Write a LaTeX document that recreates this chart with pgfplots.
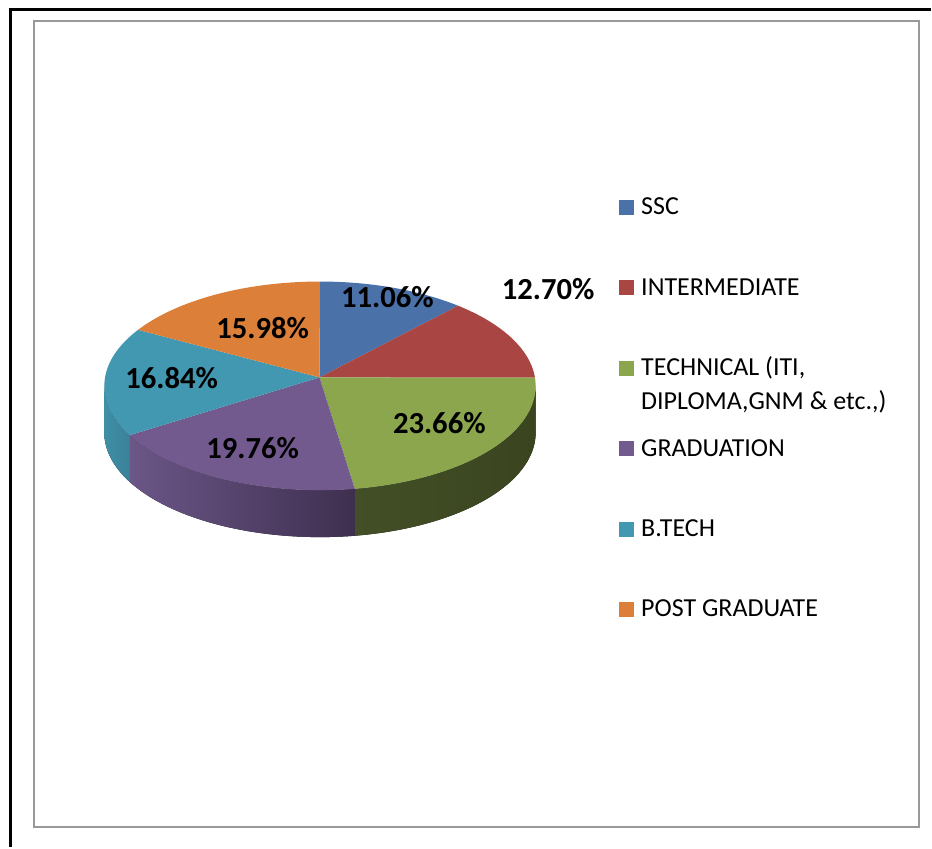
\documentclass[border=0pt]{standalone}
\usepackage{pgfplots}
\pgfplotsset{compat=1.18}
\usepgfplotslibrary{fillbetween}
\usepackage{fontspec}
\setmainfont{Carlito}
\definecolor{cA}{HTML}{4A71A8}
\definecolor{cB}{HTML}{A94542}
\definecolor{cC}{HTML}{8BA64D}
\definecolor{cD}{HTML}{725A8E}
\definecolor{cE}{HTML}{4297B1}
\definecolor{cF}{HTML}{DC8039}
\definecolor{sCl}{HTML}{434F26}
\definecolor{sCr}{HTML}{3A4520}
\definecolor{sDl}{HTML}{6B5687}
\definecolor{sDr}{HTML}{3E2F4F}
\definecolor{sEl}{HTML}{3E8FA7}
\definecolor{sEr}{HTML}{3A8198}
% shares (percent)
\def\pA{11.06}\def\pB{12.70}\def\pC{23.66}\def\pD{19.76}\def\pE{16.84}\def\pF{15.98}
\pgfmathsetmacro\aA{90}
\pgfmathsetmacro\aB{\aA-3.6*\pA}
\pgfmathsetmacro\aC{\aB-3.6*\pB}
\pgfmathsetmacro\aD{\aC-3.6*\pC}
\pgfmathsetmacro\aE{\aD-3.6*\pD}
\pgfmathsetmacro\aF{\aE-3.6*\pE}
\pgfmathsetmacro\aG{\aF-3.6*\pF}
\def\cx{320.5}\def\cy{386.5}\def\rx{216}\def\ry{104.5}\def\dd{47}
\def\px{320}\def\py{378}
\newcommand\lgd[1]{\raisebox{0pt}[15pt][0pt]{#1}}
\newcommand\lbl{\fontsize{23}{27}\selectfont\bfseries}
\begin{document}
\begin{tikzpicture}
\begin{axis}[
  hide axis, scale only axis, width=699pt, height=636pt,
  xmin=0, xmax=932, ymin=0, ymax=848, y dir=reverse, clip=false,
  legend style={at={(axis cs:620,195)}, anchor=north west, draw=none, fill=none,
    inner sep=0pt, row sep=43.9pt, column sep=5.25pt,
    font=\fontsize{19.5}{25.5}\selectfont,
    nodes={inner sep=0pt, anchor=base west}},
  legend cell align=left,
  legend image code/.code={\fill[#1] (0pt,0pt) rectangle (11.25pt,11.25pt);},
]
\path (axis cs:0,0) rectangle (axis cs:932,848);
% frames
\draw[black, line width=2.25pt] (axis cs:10.5,9) -- (axis cs:10.5,848);
\draw[black, line width=2.25pt] (axis cs:9,10) -- (axis cs:932,10);
\draw[gray!80, line width=1.5pt] (axis cs:34.5,21) rectangle (axis cs:920,828);
% sides
\addplot[name path=ct, draw=none, domain=\aD:0, samples=40, forget plot] ({\cx+\rx*cos(x)},{\cy-\ry*sin(x)});
\addplot[name path=cb, draw=none, domain=\aD:0, samples=40, forget plot] ({\cx+\rx*cos(x)},{\cy-\ry*sin(x)+\dd});
\addplot[left color=sCl, right color=sCr, draw=none, forget plot] fill between[of=ct and cb];
\addplot[name path=dt, draw=none, domain=\aE:\aD, samples=40, forget plot] ({\cx+\rx*cos(x)},{\cy-\ry*sin(x)});
\addplot[name path=db, draw=none, domain=\aE:\aD, samples=40, forget plot] ({\cx+\rx*cos(x)},{\cy-\ry*sin(x)+\dd});
\addplot[left color=sDl, right color=sDr, draw=none, forget plot] fill between[of=dt and db];
\addplot[name path=et, draw=none, domain=-180:\aE, samples=20, forget plot] ({\cx+\rx*cos(x)},{\cy-\ry*sin(x)});
\addplot[name path=eb, draw=none, domain=-180:\aE, samples=20, forget plot] ({\cx+\rx*cos(x)},{\cy-\ry*sin(x)+\dd});
\addplot[left color=sEl, right color=sEr, draw=none, forget plot] fill between[of=et and eb];
% tops
\addplot[fill=cA, draw=none, domain=\aB:\aA, samples=40] ({\cx+\rx*cos(x)},{\cy-\ry*sin(x)}) -- (axis cs:\px,\py) -- cycle;
\addlegendentry{\lgd{SSC}}
\addplot[fill=cB, draw=none, domain=\aC:\aB, samples=40] ({\cx+\rx*cos(x)},{\cy-\ry*sin(x)}) -- (axis cs:\px,\py) -- cycle;
\addlegendentry{\lgd{INTERMEDIATE}}
\addplot[fill=cC, draw=none, domain=\aD:\aC, samples=60] ({\cx+\rx*cos(x)},{\cy-\ry*sin(x)}) -- (axis cs:\px,\py) -- cycle;
\addlegendentry{\lgd{\vtop{\hbox{TECHNICAL (ITI,}\hbox{DIPLOMA,GNM \& etc.,)}}}}
\addplot[fill=cD, draw=none, domain=\aE:\aD, samples=50] ({\cx+\rx*cos(x)},{\cy-\ry*sin(x)}) -- (axis cs:\px,\py) -- cycle;
\addlegendentry{\lgd{GRADUATION}}
\addplot[fill=cE, draw=none, domain=\aF:\aE, samples=50] ({\cx+\rx*cos(x)},{\cy-\ry*sin(x)}) -- (axis cs:\px,\py) -- cycle;
\addlegendentry{\lgd{B.TECH}}
\addplot[fill=cF, draw=none, domain=\aG:\aF, samples=50] ({\cx+\rx*cos(x)},{\cy-\ry*sin(x)}) -- (axis cs:\px,\py) -- cycle;
\addlegendentry{\lgd{POST GRADUATE}}
% labels
\node[font=\lbl] at (axis cs:388,298) {11.06\%};
\node[font=\lbl] at (axis cs:549,290) {12.70\%};
\node[font=\lbl] at (axis cs:440,424) {23.66\%};
\node[font=\lbl] at (axis cs:253,449) {19.76\%};
\node[font=\lbl] at (axis cs:172,379) {16.84\%};
\node[font=\lbl] at (axis cs:263,329) {15.98\%};
\end{axis}
\end{tikzpicture}
\end{document}
